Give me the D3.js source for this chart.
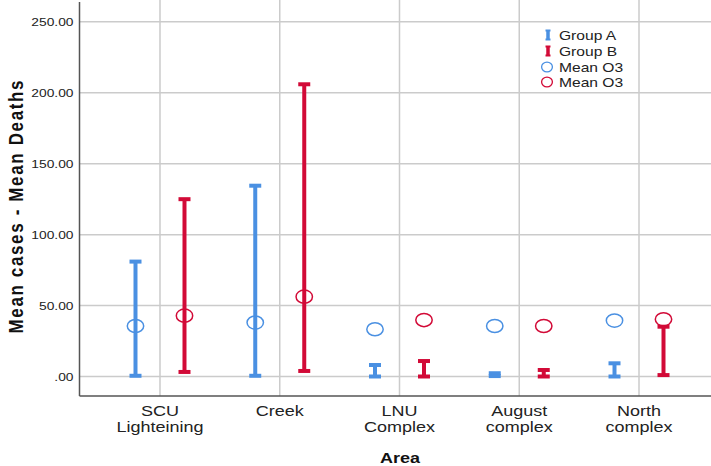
<!DOCTYPE html>
<html><head><meta charset="utf-8">
<script src="https://cdn.jsdelivr.net/npm/d3@7"></script>
<style>
html,body{margin:0;padding:0;background:#fff;}
svg{display:block;font-family:"Liberation Sans",Arial,sans-serif;}
</style></head>
<body><svg id="c" width="711" height="466"></svg>
<script>
const categories = ["SCU Lighteining","Creek","LNU Complex","August complex","North complex"];
const categoryLines = [["SCU","Lighteining"],["Creek"],["LNU","Complex"],["August","complex"],["North","complex"]];
const groups = ["Group A","Group B"];
const groupALow  = [0.5, 0.5, 0.0, 0.3, 0.0];
const groupAHigh = [81, 134.5, 8.1, 2.3, 9.3];
const groupAMean = [35.6, 38.0, 33.3, 35.6, 39.4];
const groupBLow  = [3.2, 3.9, 0.0, 0.0, 1.0];
const groupBHigh = [125, 206, 10.9, 4.6, 35.1];
const groupBMean = [42.9, 56.3, 39.8, 35.6, 40.3];
const yTicks = [0, 50, 100, 150, 200, 250];
const legendLabels = ["Group A","Group B","Mean O3","Mean O3"];
const colors = {"Group A":"#4a90e2","Group B":"#d20a37"};

(function(){
const svg = d3.select("#c");
const SX = 1.2; // horizontal stretch of the original picture
const pL = 79.5, pR = 711, pT = 2, pB = 396;

const x = d3.scalePoint().domain(categories).range([80, 719]).padding(0.668);
const xOff = d3.scalePoint().domain(groups).range([-24.5, 24.5]);
const y = d3.scaleLinear().domain([-13.75, 264]).range([pB, pT]);

// gridlines
svg.append("g").selectAll("line").data(yTicks).join("line")
  .attr("x1", pL).attr("x2", pR).attr("y1", d => y(d)).attr("y2", d => y(d))
  .attr("stroke", "#cbcbcb").attr("stroke-width", 1.5);
svg.append("g").selectAll("line").data(categories).join("line")
  .attr("x1", d => x(d)).attr("x2", d => x(d)).attr("y1", 0).attr("y2", pB)
  .attr("stroke", "#cbcbcb").attr("stroke-width", 1.5);

// axes
const yAxis = d3.axisLeft(y).tickValues(yTicks).tickSize(0).tickPadding(6)
  .tickFormat(d => d3.format(".2f")(d).replace(/^0(?=\.)/, ""));
const gy = svg.append("g").attr("transform", `translate(${pL},0)`).call(yAxis);
gy.select(".domain").remove();
gy.selectAll("text").attr("font-size", 11.5).attr("fill", "#222")
  .attr("font-family", "Liberation Sans, Arial, sans-serif")
  .attr("transform", `translate(-6,0) scale(${SX},1) translate(6,0)`);
svg.append("line").attr("x1", pL).attr("x2", pL).attr("y1", pT).attr("y2", pB)
  .attr("stroke", "#555").attr("stroke-width", 1.5);
svg.append("line").attr("x1", pL).attr("x2", pR).attr("y1", pB).attr("y2", pB)
  .attr("stroke", "#555").attr("stroke-width", 1.5);

// x labels (one text per line)
categories.forEach((c, i) => {
  categoryLines[i].forEach((s, j) => {
    svg.append("text")
      .attr("transform", `translate(${x(c)},${416 + j * 16}) scale(${SX},1)`)
      .attr("text-anchor", "middle").attr("font-size", 15).attr("fill", "#222").text(s);
  });
});

// axis titles
svg.append("text").attr("transform", `translate(400,463) scale(${SX},1)`)
  .attr("text-anchor", "middle").attr("font-size", 15).attr("font-weight", "bold").attr("fill", "#111").text("Area");
svg.append("text").attr("transform", `translate(23,207) scale(${SX},1) rotate(-90)`)
  .attr("text-anchor", "middle").attr("font-size", 17).attr("font-weight", "bold").attr("fill", "#111")
  .attr("textLength", 253).attr("lengthAdjust", "spacing").text("Mean cases - Mean Deaths");

// error bars
const series = [
  {g:"Group A", low:groupALow, high:groupAHigh, mean:groupAMean},
  {g:"Group B", low:groupBLow, high:groupBHigh, mean:groupBMean}
];
series.forEach(s => {
  const rows = categories.map((c, i) => ({c, lo:s.low[i], hi:s.high[i], m:s.mean[i]}));
  const g = svg.append("g").attr("stroke", colors[s.g]).attr("fill", "none");
  const cx = d => x(d.c) + xOff(s.g);
  g.selectAll(".v").data(rows).join("line").attr("class","v").attr("x1", cx).attr("x2", cx)
    .attr("y1", d => y(d.hi)).attr("y2", d => y(d.lo)).attr("stroke-width", 4);
  g.selectAll(".t").data(rows).join("line").attr("class","t").attr("x1", d => cx(d) - 6).attr("x2", d => cx(d) + 6)
    .attr("y1", d => y(d.hi)).attr("y2", d => y(d.hi)).attr("stroke-width", 4);
  g.selectAll(".b").data(rows).join("line").attr("class","b").attr("x1", d => cx(d) - 6).attr("x2", d => cx(d) + 6)
    .attr("y1", d => y(d.lo)).attr("y2", d => y(d.lo)).attr("stroke-width", 4);
  g.selectAll("ellipse").data(rows).join("ellipse").attr("cx", cx).attr("cy", d => y(d.m))
    .attr("rx", 8.2).attr("ry", 6.6).attr("stroke-width", 1.5).attr("fill", "none");
});

// legend
const lg = svg.append("g");
const ly = [35, 51, 67, 82];
legendLabels.forEach((lab, i) => {
  const col = i % 2 === 0 ? colors["Group A"] : colors["Group B"];
  if (i < 2) {
    const g = lg.append("g").attr("stroke", col);
    g.append("line").attr("x1", 548).attr("x2", 548).attr("y1", ly[i] - 5).attr("y2", ly[i] + 5).attr("stroke-width", 3.5);
    g.append("line").attr("x1", 545.5).attr("x2", 550.5).attr("y1", ly[i] - 4.5).attr("y2", ly[i] - 4.5).attr("stroke-width", 2);
    g.append("line").attr("x1", 545.5).attr("x2", 550.5).attr("y1", ly[i] + 4.5).attr("y2", ly[i] + 4.5).attr("stroke-width", 2);
  } else {
    lg.append("ellipse").attr("cx", 547).attr("cy", ly[i]).attr("rx", 5.4).attr("ry", 4.8)
      .attr("stroke", col).attr("stroke-width", 1.3).attr("fill", "none");
  }
  lg.append("text").attr("transform", `translate(559,${ly[i] + 4.5}) scale(${SX},1)`)
    .attr("font-size", 13).attr("fill", "#222").text(lab);
});
})();
</script></body></html>
